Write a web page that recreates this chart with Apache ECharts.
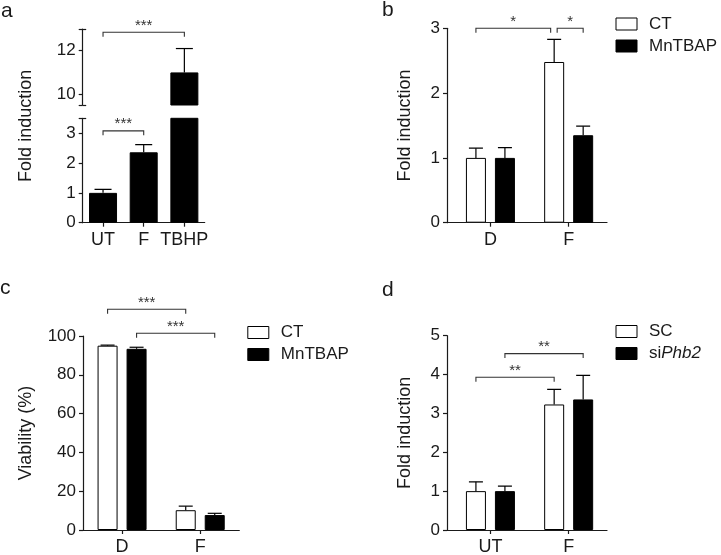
<!DOCTYPE html>
<html><head><meta charset="utf-8">
<script src="https://cdn.jsdelivr.net/npm/echarts@6/dist/echarts.min.js"></script>
<style>html,body{margin:0;padding:0;background:#fff}#c{width:721px;height:555px}</style>
</head><body><div id="c"></div>
<script>
// ---------------- data ----------------
const aCategories = ['UT', 'F', 'TBHP'];
const aValues = [1.0, 2.36, 11.0];
const aErrors = [0.12, 0.26, 1.1];
const aLowerTicks = [0, 1, 2, 3];
const aUpperTicks = [10, 12];

const bCategories = ['D', 'F'];
const bSeriesNames = ['CT', 'MnTBAP'];
const bCT = [1.0, 2.48];
const bCTErr = [0.15, 0.35];
const bMn = [1.0, 1.35];
const bMnErr = [0.16, 0.14];
const bTicks = [0, 1, 2, 3];

const cCategories = ['D', 'F'];
const cSeriesNames = ['CT', 'MnTBAP'];
const cCT = [95.0, 10.2];
const cCTErr = [0.3, 2.1];
const cMn = [93.4, 7.7];
const cMnErr = [0.8, 0.9];
const cTicks = [0, 20, 40, 60, 80, 100];

const dCategories = ['UT', 'F'];
const dSeriesNames = ['SC', 'siPhb2'];
const dSC = [1.0, 3.23];
const dSCErr = [0.24, 0.39];
const dSi = [1.0, 3.36];
const dSiErr = [0.13, 0.62];
const dTicks = [0, 1, 2, 3, 4, 5];

// significance brackets: [fromGroup, fromSeries, toGroup, toSeries, yValue, label]
const aBracketsUpper = [[0, 0, 2, 0, 12.85, '***']];
const aBracketsLower = [[0, 0, 1, 0, 3.08, '***']];
const bBrackets = [[0, 0, 1, 0, 3.0, '*'], [1, 0, 1, 1, 3.0, '*']];
const cBrackets = [[0, 0, 1, 0, 113.8, '***'], [0, 1, 1, 1, 101.4, '***']];
const dBrackets = [[0, 0, 1, 0, 3.93, '**'], [0, 1, 1, 1, 4.54, '**']];

// ---------------- styling helpers ----------------
const FONT = 'Liberation Sans, Arial, sans-serif';
const AX = '#1a1a1a';
const LINE = { color: AX, width: 1.2 };

const option = {
  animation: false,
  textStyle: { fontFamily: FONT },
  title: [], grid: [], xAxis: [], yAxis: [], series: [], legend: []
};

function offsetFor(s, n, w, gap) { return (s - (n - 1) / 2) * w * (1 + gap); }

function addAxes(p) {
  const gi = option.grid.length;
  option.grid.push({ left: p.left, top: p.top, width: p.width, height: p.height, outerBoundsMode: 'none', containLabel: false });
  const xi = option.xAxis.length;
  const idx = p.cats.map((_, i) => i);
  option.xAxis.push({
    type: 'value', gridIndex: gi, min: p.xMin, max: p.xMax, show: p.showX !== false,
    axisLine: { show: true, onZero: false, lineStyle: LINE },
    axisTick: { show: true, customValues: idx, length: 4, lineStyle: LINE },
    axisLabel: { customValues: idx, formatter: v => p.cats[Math.round(v)], fontSize: 18, color: AX, margin: 8, fontFamily: FONT },
    splitLine: { show: false }
  });
  const yi = option.yAxis.length;
  option.yAxis.push({
    type: 'value', gridIndex: gi, min: p.yMin, max: p.yMax,
    axisLine: { show: true, onZero: false, lineStyle: LINE },
    axisTick: { show: true, customValues: p.yTicks, length: 4, lineStyle: LINE },
    axisLabel: { customValues: p.yLabels, fontSize: 17, color: AX, margin: 7, fontFamily: FONT },
    splitLine: { show: false },
    name: p.yName || '', nameLocation: 'middle', nameGap: p.nameGap || 33, nameMoveOverlap: false,
    nameTextStyle: { fontSize: 18, color: AX, fontFamily: FONT }
  });
  if (p.capTicks) {
    option.yAxis.push({
      type: 'value', gridIndex: gi, min: p.yMin, max: p.yMax, position: 'left', offset: 0,
      axisLine: { show: false, onZero: false },
      axisTick: { show: true, inside: true, customValues: p.capTicks, length: 3.5, lineStyle: LINE },
      axisLabel: { show: false }, splitLine: { show: false }
    });
  }
  return { xi, yi };
}

function addBars(ax, p, seriesList) {
  const n = seriesList.length;
  seriesList.forEach((s, si) => {
    option.series.push({
      type: 'bar', name: s.name, xAxisIndex: ax.xi, yAxisIndex: ax.yi,
      barWidth: p.barW, barGap: (p.gap * 100) + '%', silent: true,
      data: s.values.map((v, i) => [i, v]),
      itemStyle: { color: s.fill, borderColor: '#000', borderWidth: 1 }
    });
  });
  seriesList.forEach((s, si) => {
    const off = offsetFor(si, n, p.barW, p.gap);
    option.series.push({
      type: 'custom', xAxisIndex: ax.xi, yAxisIndex: ax.yi, clip: true, silent: true, z: 3,
      data: s.values.map((v, i) => [i, v, v + s.errors[i]]),
      encode: { x: 0, y: [1, 2] },
      renderItem: (params, api) => {
        const x = api.value(0);
        const base = api.coord([x, api.value(1)]);
        const top = api.coord([x, api.value(2)]);
        const cx = base[0] + off;
        const st = { stroke: '#000', lineWidth: 1.2 };
        return { type: 'group', children: [
          { type: 'line', shape: { x1: cx, y1: base[1], x2: cx, y2: top[1] }, style: st },
          { type: 'line', shape: { x1: cx - p.cap / 2, y1: top[1], x2: cx + p.cap / 2, y2: top[1] }, style: st }
        ] };
      }
    });
  });
}

function addBrackets(ax, p, list, n, insets, starSize) {
  option.series.push({
    type: 'custom', xAxisIndex: ax.xi, yAxisIndex: ax.yi, clip: false, silent: true, z: 4,
    data: list.map(b => [b[0], b[4]]),
    renderItem: (params, api) => {
      const b = list[params.dataIndex];
      const ins = (insets && insets[params.dataIndex]) || [0, 0];
      const p1 = api.coord([b[0], b[4]]);
      const p2 = api.coord([b[2], b[4]]);
      const x1 = p1[0] + offsetFor(b[1], n, p.barW, p.gap) + ins[0];
      const x2 = p2[0] + offsetFor(b[3], n, p.barW, p.gap) + ins[1];
      const y = p1[1];
      return { type: 'group', children: [
        { type: 'polyline', shape: { points: [[x1, y + 4.5], [x1, y], [x2, y], [x2, y + 4.5]] },
          style: { stroke: '#333', fill: null, lineWidth: 1.1 } },
        { type: 'text', x: (x1 + x2) / 2, y: y + 1,
          style: { text: b[5], align: 'center', verticalAlign: 'bottom', fontSize: starSize, fill: '#333', fontFamily: FONT } }
      ] };
    }
  });
}

// ---------------- panel a (broken axis) ----------------
const pa = { barW: 28, gap: 0, cap: 17 };
const aUpper = addAxes({ left: 82.7, top: 29, width: 122, height: 76, xMin: -0.5, xMax: 2.5, cats: aCategories, showX: false,
  yMin: 9.5, yMax: 13, yTicks: [9.5].concat(aUpperTicks, [13]), yLabels: aUpperTicks, capTicks: [9.5, 13] });
addBars(aUpper, pa, [{ name: 'a', values: aValues, errors: aErrors, fill: '#000' }]);
addBrackets(aUpper, pa, aBracketsUpper, 1, null, 15);
const aLower = addAxes({ left: 82.7, top: 118.3, width: 122, height: 104.4, xMin: -0.5, xMax: 2.5, cats: aCategories,
  yMin: 0, yMax: 3.5, yTicks: aLowerTicks.concat([3.5]), yLabels: aLowerTicks, capTicks: [3.5] });
addBars(aLower, pa, [{ name: 'a', values: aValues, errors: aErrors, fill: '#000' }]);
addBrackets(aLower, pa, aBracketsLower, 1, null, 15);
// invisible full-height axis carrying the y name of panel a
(function () {
  const gi = option.grid.length;
  option.grid.push({ left: 82.7, top: 29, width: 122, height: 193.7, outerBoundsMode: 'none' });
  option.xAxis.push({ type: 'value', gridIndex: gi, show: false, min: 0, max: 1 });
  option.yAxis.push({ type: 'value', gridIndex: gi, min: 0, max: 1,
    axisLine: { show: false }, axisTick: { show: false }, axisLabel: { show: false }, splitLine: { show: false },
    name: 'Fold induction', nameLocation: 'middle', nameGap: 48, nameMoveOverlap: false,
    nameTextStyle: { fontSize: 18, color: AX, fontFamily: FONT } });
})();

// ---------------- panel b ----------------
const pg = { barW: 20, gap: 0.45, cap: 14 };
const bAx = addAxes({ left: 447, top: 28.3, width: 160, height: 194.4, xMin: -0.555, xMax: 1.49, cats: bCategories,
  yMin: 0, yMax: 3, yTicks: bTicks, yLabels: bTicks, yName: 'Fold induction', nameGap: 33 });
addBars(bAx, pg, [
  { name: bSeriesNames[0], values: bCT, errors: bCTErr, fill: '#fff' },
  { name: bSeriesNames[1], values: bMn, errors: bMnErr, fill: '#000' }]);
addBrackets(bAx, pg, bBrackets, 2, [[0, -3.5], [3, 0]], 15);

// ---------------- panel c ----------------
const cAx = addAxes({ left: 83, top: 336, width: 156.3, height: 194, xMin: -0.5, xMax: 1.5, cats: cCategories,
  yMin: 0, yMax: 100, yTicks: cTicks, yLabels: cTicks, yName: 'Viability (%)', nameGap: 48 });
addBars(cAx, pg, [
  { name: cSeriesNames[0], values: cCT, errors: cCTErr, fill: '#fff' },
  { name: cSeriesNames[1], values: cMn, errors: cMnErr, fill: '#000' }]);
addBrackets(cAx, pg, cBrackets, 2, null, 15);

// ---------------- panel d ----------------
const dAx = addAxes({ left: 447, top: 335.7, width: 160, height: 194.3, xMin: -0.555, xMax: 1.49, cats: dCategories,
  yMin: 0, yMax: 5, yTicks: dTicks, yLabels: dTicks, yName: 'Fold induction', nameGap: 33 });
addBars(dAx, pg, [
  { name: dSeriesNames[0], values: dSC, errors: dSCErr, fill: '#fff' },
  { name: dSeriesNames[1], values: dSi, errors: dSiErr, fill: '#000' }]);
addBrackets(dAx, pg, dBrackets, 2, null, 15);

// ---------------- legends & panel letters ----------------
function legend(left, top, names) {
  return {
    orient: 'vertical', left, top, padding: 0, itemWidth: 21, itemHeight: 12, itemGap: 5,
    icon: 'rect', selectedMode: false, data: names,
    itemStyle: { borderWidth: 1, borderColor: '#000' },
    formatter: name => name === 'siPhb2' ? '{n|si}{i|Phb2}' : '{n|' + name + '}',
    textStyle: { fontSize: 17, color: AX, fontFamily: FONT, padding: [0, 0, 0, 7],
      rich: { n: { fontSize: 17, color: AX, fontFamily: FONT }, i: { fontSize: 17, color: AX, fontStyle: 'italic', fontFamily: FONT } } }
  };
}
option.legend.push(legend(615.5, 15.5, bSeriesNames));
option.legend.push(legend(247.3, 324, cSeriesNames));
option.legend.push(legend(615.5, 323, dSeriesNames));

const letter = (t, left, top) => ({ text: t, left, top, padding: 0,
  textStyle: { fontSize: 21, fontWeight: 'normal', color: AX, fontFamily: FONT } });
option.title.push(letter('a', 1, 1), letter('b', 382, 0), letter('c', 0, 278), letter('d', 382, 280));

const chart = echarts.init(document.getElementById('c'), null, { renderer: 'canvas' });
chart.setOption(option);
</script>
</body></html>
